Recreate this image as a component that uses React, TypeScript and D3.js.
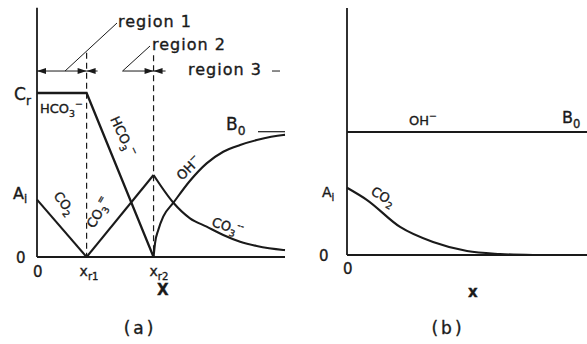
import React from 'react';
import * as d3 from 'd3';

// panel (a): concentration profiles across the three reaction regions
const xr1 = 2.0;
const xr2 = 4.7;
const levelCr = 1.0;
const levelAi = 0.35;
const levelB0 = 0.764;
const arrowLevel = 1.134;

const hco3A: [number, number][] = [[0, 1.0], [2.0, 1.0], [4.7, 0]];
const co2A: [number, number][] = [[0, 0.35], [2.0, 0]];
const co3RiseA: [number, number][] = [[2.0, 0], [4.7, 0.5]];
const co3DecayA: [number, number][] = [[4.7, 0.5], [5.5, 0.331], [6.17, 0.236], [6.84, 0.185], [7.51, 0.134], [8.19, 0.093], [8.86, 0.067], [9.93, 0.043], [10, 0.042]];
const ohA: [number, number][] = [[4.7, 0], [4.76, 0.085], [4.89, 0.165], [5.09, 0.246], [5.5, 0.331], [6.17, 0.465], [6.84, 0.571], [7.51, 0.642], [8.19, 0.683], [8.86, 0.713], [9.93, 0.744], [10, 0.745]];

// panel (b): no reaction plane, CO2 decays from the interface
const levelAiB = 0.41;
const ohB: [number, number][] = [[0, 0.75], [10, 0.75]];
const co2B: [number, number][] = [[0, 0.41], [0.81, 0.335], [2.14, 0.171], [3.47, 0.079], [4.84, 0.024], [6.17, 0.006], [7.5, 0]];

const INK = '#1a1a1a';
const FONT = '"DejaVu Sans", "Liberation Sans", sans-serif';

const xA = d3.scaleLinear().domain([0, 10]).range([37, 285]);
const yA = d3.scaleLinear().domain([0, 1.5]).range([257, 11]);
const xB = d3.scaleLinear().domain([0, 10]).range([347, 595]);
const yB = d3.scaleLinear().domain([0, 1.5]).range([255, 9]);

const lineA = d3.line<[number, number]>().x(d => xA(d[0])).y(d => yA(d[1]));
const smoothA = d3.line<[number, number]>().x(d => xA(d[0])).y(d => yA(d[1])).curve(d3.curveMonotoneX);
const lineB = d3.line<[number, number]>().x(d => xB(d[0])).y(d => yB(d[1]));
const smoothB = d3.line<[number, number]>().x(d => xB(d[0])).y(d => yB(d[1])).curve(d3.curveMonotoneX);

function head(tip: number, y: number, dir: number) {
  return `M${tip},${y}L${tip - dir * 9},${y - 3}L${tip - dir * 9},${y + 3}Z`;
}

function Chem({ x, y, rot = 0, base, sub, sup, size = 13 }: any) {
  return (
    <text transform={`translate(${x},${y}) rotate(${rot})`} fontSize={size} fontFamily={FONT} fill={INK}>
      {base}
      {sub && <tspan fontSize={size * 0.72} dy={size * 0.3}>{sub}</tspan>}
      {sup && <tspan fontSize={size * 0.72} dy={sub ? -size * 0.75 : -size * 0.45}>{sup}</tspan>}
    </text>
  );
}

export default function App() {
  const ya = yA(arrowLevel);
  return (
    <svg width={587} height={344} style={{ position: 'absolute', left: 0, top: 0, background: '#fff' }}>
      <g fill="none" stroke={INK}>
        {/* panel (a) axes */}
        <line x1={xA(0)} x2={xA(0)} y1={yA(1.52)} y2={yA(0)} strokeWidth={1.8} />
        <line x1={xA(0)} x2={xA(10)} y1={yA(0)} y2={yA(0)} strokeWidth={1.8} />
        {/* reaction planes */}
        <line x1={xA(xr1)} x2={xA(xr1)} y1={yA(1.245)} y2={yA(0)} strokeWidth={1.2} strokeDasharray="6,4" />
        <line x1={xA(xr2)} x2={xA(xr2)} y1={yA(1.23)} y2={yA(0)} strokeWidth={1.2} strokeDasharray="6,4" />
        {/* profiles */}
        <path d={lineA(hco3A)!} strokeWidth={2.3} />
        <path d={lineA(co2A)!} strokeWidth={2.1} />
        <path d={lineA(co3RiseA)!} strokeWidth={2.1} />
        <path d={smoothA(co3DecayA)!} strokeWidth={2.1} />
        <path d={smoothA(ohA)!} strokeWidth={2.1} />
        {/* region dimension arrows */}
        <line x1={xA(0)} x2={xA(xr1)} y1={ya} y2={ya} strokeWidth={1} />
        <line x1={xA(xr1)} x2={xA(xr1) + 11} y1={ya} y2={ya} strokeWidth={1} />
        <line x1={xA(3.45)} x2={xA(xr2)} y1={ya} y2={ya} strokeWidth={1} />
        <line x1={xA(xr2)} x2={xA(xr2) + 12} y1={ya} y2={ya} strokeWidth={1} />
        <line x1={xA(1.13)} y1={ya} x2={117} y2={23} strokeWidth={1} />
        <line x1={xA(3.45)} y1={ya} x2={150} y2={46} strokeWidth={1} />
        <line x1={272} x2={280} y1={ya} y2={ya} strokeWidth={1} />
        <line x1={258} x2={285} y1={yA(levelB0)} y2={yA(levelB0)} strokeWidth={1.2} />

        {/* panel (b) */}
        <line x1={xB(0)} x2={xB(0)} y1={yB(1.506)} y2={yB(0)} strokeWidth={1.8} />
        <line x1={xB(0)} x2={xB(10)} y1={yB(0)} y2={yB(0)} strokeWidth={1.8} />
        <path d={lineB(ohB)!} strokeWidth={2.1} />
        <path d={smoothB(co2B)!} strokeWidth={2.1} />
      </g>
      <g fill={INK}>
        <path d={head(xA(0), ya, -1)} />
        <path d={head(xA(xr1), ya, 1)} />
        <path d={head(xA(xr1), ya, -1)} />
        <path d={head(xA(xr2), ya, 1)} />
        <path d={head(xA(xr2), ya, -1)} />
      </g>

      <g fontFamily={FONT} fill={INK} stroke={INK} strokeWidth={0.35}>
        <text x={118} y={27} fontSize={16} letterSpacing={1}>region 1</text>
        <text x={152} y={50} fontSize={16} letterSpacing={1}>region 2</text>
        <text x={188} y={75} fontSize={16} letterSpacing={1}>region 3</text>

        <Chem x={14} y={yA(levelCr) + 7} base="C" sub="r" size={17} />
        <Chem x={13} y={yA(levelAi) - 1} base="A" sub="i" size={16} />
        <Chem x={226} y={yA(levelB0) - 2} base="B" sub="0" size={17} />
        <text x={16} y={yA(0) + 6} fontSize={15}>0</text>
        <text x={xA(0) - 4} y={277} fontSize={15}>0</text>
        <Chem x={xA(xr1) - 7} y={276} base="x" sub="r1" size={14} />
        <Chem x={xA(xr2) - 4} y={276} base="x" sub="r2" size={14} />
        <text x={157} y={295} fontSize={15} fontWeight="bold">X</text>
        <text x={140} y={334} fontSize={17} textAnchor="middle" letterSpacing={3}>(a)</text>

        <Chem x={40} y={113} base="HCO" sub="3" sup="−" size={13} />
        <Chem x={110} y={119} rot={65} base="HCO" sub="3" sup="−" size={13} />
        <Chem x={53} y={196} rot={52} base="CO" sub="2" size={13} />
        <Chem x={94} y={229} rot={-60} base="CO" sub="3" sup="=" size={13} />
        <Chem x={182} y={181} rot={-45} base="OH" sup="−" size={13} />
        <Chem x={211} y={226} rot={17} base="CO" sub="3" sup="--" size={13} />

        {/* panel (b) labels */}
        <Chem x={409} y={125} base="OH" sup="−" size={13} />
        <Chem x={562} y={123} base="B" sub="0" size={16} />
        <Chem x={322} y={197} base="A" sub="i" size={14} />
        <Chem x={370} y={194} rot={30} base="CO" sub="2" size={13} />
        <text x={319} y={261} fontSize={15}>0</text>
        <text x={xB(0) - 4} y={274} fontSize={15}>0</text>
        <text x={468} y={297} fontSize={15} fontWeight="bold">x</text>
        <text x={448} y={334} fontSize={17} textAnchor="middle" letterSpacing={3}>(b)</text>
      </g>
    </svg>
  );
}
